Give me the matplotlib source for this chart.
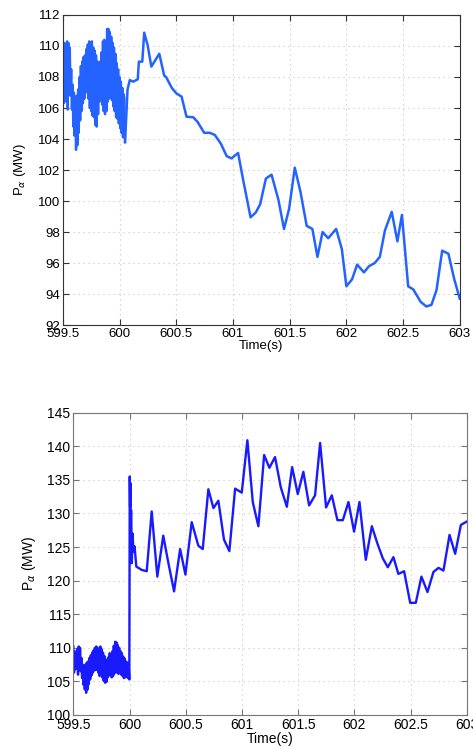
import numpy as np
import matplotlib
matplotlib.use("Agg")
import matplotlib.pyplot as plt

plt.rcParams['font.family'] = ['Liberation Sans', 'DejaVu Sans']

# ---- top panel: noisy part (sampled), then smooth part ----
top_noisy = [110.0, 106.3, 110.2, 106.8, 109.5, 106.4, 110.3, 105.9, 110.2, 107.3,
             109.9, 106.8, 108.5, 105.9, 107.5, 104.8, 107.0, 104.2, 106.4, 103.3,
             106.8, 103.6, 107.2, 104.4, 108.0, 105.2, 108.7, 105.8, 109.0, 106.3,
             109.3, 106.6, 109.4, 107.0, 109.8, 107.2, 110.1, 106.6, 110.3, 106.0,
             110.2, 105.8, 110.3, 105.5, 109.9, 105.4, 109.7, 104.9, 109.4, 104.8,
             109.0, 105.6, 108.8, 106.4, 109.0, 106.5, 109.6, 106.2, 110.3, 105.8,
             110.4, 105.6, 110.0, 105.8, 111.1, 106.4, 111.1, 106.6, 110.9, 106.7,
             110.6, 106.5, 110.2, 106.1, 109.9, 105.8, 109.5, 105.4, 108.9, 105.3,
             108.5, 105.0, 108.0, 104.7, 107.7, 104.4, 107.3, 104.1, 106.9, 106.6,
             103.8]
top_noisy_t = np.linspace(599.5, 600.048, len(top_noisy))

top_t = [600.07, 600.09, 600.12, 600.16, 600.17, 600.20, 600.217, 600.247, 600.28,
         600.35, 600.393, 600.41, 600.46, 600.50, 600.547, 600.59, 600.65, 600.688,
         600.746, 600.796, 600.84, 600.893, 600.944, 600.987, 601.045, 601.09,
         601.155, 601.20, 601.24, 601.29, 601.34, 601.40, 601.45, 601.495, 601.545,
         601.595, 601.65, 601.70, 601.745, 601.79, 601.84, 601.91, 601.96, 602.0,
         602.05, 602.095, 602.155, 602.20, 602.25, 602.295, 602.34, 602.40, 602.45,
         602.49, 602.545, 602.59, 602.655, 602.705, 602.75, 602.795, 602.845, 602.90,
         602.95, 603.0]
top_p = [107.2, 107.8, 107.7, 107.85, 108.99, 108.99, 110.86, 110.06, 108.67,
         109.5, 108.1, 108.0, 107.3, 106.95, 106.73, 105.44, 105.4, 105.1,
         104.4, 104.4, 104.26, 103.7, 102.9, 102.75, 103.1, 101.35,
         98.95, 99.25, 99.8, 101.45, 101.7, 100.1, 98.2, 99.5, 102.15,
         100.6, 98.4, 98.2, 96.4, 98.0, 97.6, 98.2, 96.9, 94.5,
         94.95, 95.9, 95.4, 95.8, 96.0, 96.4, 98.1, 99.3, 97.4,
         99.1, 94.5, 94.3, 93.5, 93.2, 93.3, 94.25, 96.8, 96.6,
         95.0, 93.7]

# ---- bottom panel ----
bot_noisy = [110.2, 106.3, 109.5, 106.8, 109.0, 107.0, 109.8, 106.0, 110.2, 106.8,
             110.0, 106.5, 108.5, 105.5, 107.5, 104.5, 107.0, 103.8, 107.5, 103.3,
             107.8, 103.8, 108.0, 104.6, 108.5, 105.3, 108.9, 105.9, 109.3, 106.3,
             109.6, 106.6, 110.0, 106.8, 110.2, 106.7, 110.0, 106.3, 109.8, 105.8,
             110.2, 106.0, 109.8, 105.6, 109.3, 105.1, 108.8, 104.8, 108.3, 104.9,
             108.0, 105.6, 108.6, 106.0, 109.2, 105.8, 108.8, 105.6, 109.5, 105.8,
             110.3, 106.2, 110.9, 106.4, 110.8, 106.3, 110.4, 106.1, 110.0, 106.3,
             109.5, 106.0, 109.2, 105.8, 108.7, 105.5, 108.4, 105.6, 108.0, 105.9,
             107.8, 105.5, 107.5, 105.3]
bot_noisy_t = np.linspace(599.5, 599.998, len(bot_noisy))

bot_t = [600.002, 600.005, 600.008, 600.011, 600.014, 600.017, 600.02, 600.027,
         600.035, 600.045, 600.06, 600.108, 600.153, 600.197, 600.247, 600.30,
         600.34, 600.396, 600.45, 600.497, 600.553, 600.612, 600.651, 600.701,
         600.746, 600.79, 600.84, 600.888, 600.939, 600.998, 601.048, 601.096,
         601.146, 601.197, 601.244, 601.294, 601.345, 601.399, 601.446, 601.496,
         601.546, 601.597, 601.65, 601.695, 601.748, 601.799, 601.849, 601.897,
         601.947, 601.997, 602.045, 602.101, 602.155, 602.205, 602.253, 602.297,
         602.347, 602.391, 602.442, 602.496, 602.546, 602.596, 602.65, 602.703,
         602.748, 602.792, 602.846, 602.896, 602.947, 603.0]
bot_p = [135.5, 131.0, 134.5, 128.0, 130.5, 127.5, 122.6, 127.0, 124.3,
         125.1, 122.1, 121.6, 121.4, 130.3, 120.6, 126.7,
         123.1, 118.4, 124.7, 120.9, 128.7, 125.2, 124.7, 133.6,
         130.8, 131.9, 126.1, 124.4, 133.7, 133.1, 140.9, 131.7,
         128.1, 138.7, 136.8, 138.4, 133.9, 131.0, 136.9, 132.9,
         136.2, 131.2, 132.7, 140.5, 130.9, 132.7, 129.0, 129.0,
         131.7, 127.3, 131.7, 123.1, 128.1, 125.5, 123.3, 122.0,
         123.5, 121.0, 121.4, 116.7, 116.7, 120.6, 118.3, 121.3,
         121.9, 121.5, 126.8, 124.0, 128.3, 128.8]

xticks = [599.5, 600, 600.5, 601, 601.5, 602, 602.5, 603]
xticklabels = ['599.5', '600', '600.5', '601', '601.5', '602', '602.5', '603']

fig = plt.figure(figsize=(4.73, 7.49), dpi=100)
ax1 = fig.add_axes([0.133, 0.566, 0.839, 0.414])
ax2 = fig.add_axes([0.155, 0.0454, 0.832, 0.4036])


def style(ax, edge, fs):
    ax.set_xlim(599.5, 603)
    ax.set_xticks(xticks)
    ax.set_xticklabels(xticklabels)
    ax.grid(True, linestyle=(0, (1, 3.5)), color='#c4c4c4', linewidth=0.8)
    ax.tick_params(direction='in', top=True, right=True, labelsize=fs,
                   length=4, pad=2, color=edge)
    for s in ax.spines.values():
        s.set_color(edge)
        s.set_linewidth(0.8)
    ax.set_xlabel('Time(s)', fontsize=fs, labelpad=0)
    ax.set_ylabel(r'P$_\alpha$ (MW)', fontsize=fs, labelpad=7)


top_col = '#2463ff'
ax1.plot(top_noisy_t, top_noisy, color=top_col, lw=1.7)
ax1.plot([top_noisy_t[-1]] + top_t, [top_noisy[-1]] + top_p, color=top_col, lw=1.8)
ax1.set_ylim(92, 112)
ax1.set_yticks(range(92, 113, 2))
style(ax1, '#333333', 9.5)

bot_col = '#1a1aff'
ax2.plot(list(bot_noisy_t) + bot_t, bot_noisy + bot_p, color=bot_col, lw=1.7)
ax2.set_ylim(100, 145)
ax2.set_yticks(range(100, 146, 5))
style(ax2, '#777777', 10)

fig.savefig('out.png', dpi=100)
